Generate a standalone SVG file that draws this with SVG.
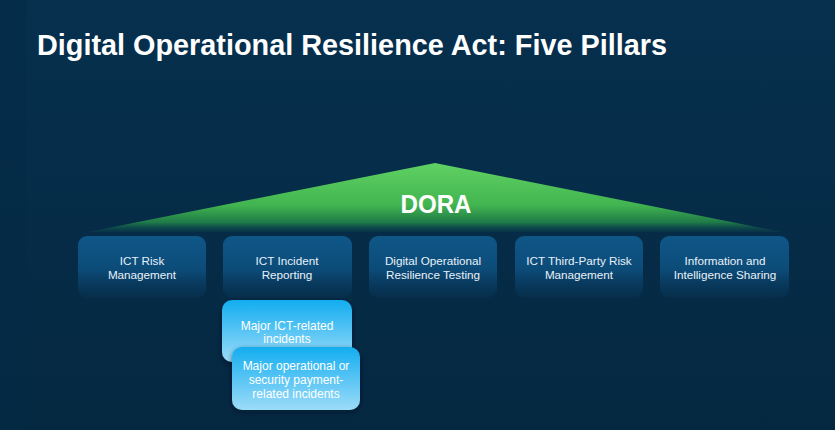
<svg xmlns="http://www.w3.org/2000/svg" width="835" height="430" viewBox="0 0 835 430">
  <defs>
    <linearGradient id="bg" x1="0" y1="0" x2="0" y2="1">
      <stop offset="0" stop-color="#06304e"/>
      <stop offset="1" stop-color="#052841"/>
    </linearGradient>
    <linearGradient id="roof" x1="0" y1="163" x2="0" y2="233" gradientUnits="userSpaceOnUse">
      <stop offset="0" stop-color="#60d163"/>
      <stop offset="0.6" stop-color="#42b550"/>
      <stop offset="0.85" stop-color="#1e7a48"/>
      <stop offset="1" stop-color="#0a3a4c" stop-opacity="0.3"/>
    </linearGradient>
    <linearGradient id="pillar" x1="0" y1="0" x2="0" y2="1">
      <stop offset="0" stop-color="#0f5788"/>
      <stop offset="0.55" stop-color="#0c4b78"/>
      <stop offset="1" stop-color="#07304f" stop-opacity="0.6"/>
    </linearGradient>
    <linearGradient id="sub" x1="0" y1="0" x2="0" y2="1">
      <stop offset="0" stop-color="#13adf0"/>
      <stop offset="1" stop-color="#9cdcf8"/>
    </linearGradient>
    <filter id="shadow" x="-20%" y="-20%" width="140%" height="150%">
      <feDropShadow dx="0" dy="2" stdDeviation="2.5" flood-color="#001525" flood-opacity="0.6"/>
    </filter>
    <style>
      .title { font-family: "Liberation Sans", Arial, sans-serif; font-weight: bold; font-size: 29px; fill: #ffffff; }
      .dora { font-family: "Liberation Sans", Arial, sans-serif; font-weight: bold; font-size: 25px; fill: #ffffff; }
      .ptext { font-family: "Liberation Sans", Arial, sans-serif; font-size: 11.7px; fill: #e8f2fa; text-anchor: middle; }
      .stext { font-family: "Liberation Sans", Arial, sans-serif; font-size: 12px; fill: #ffffff; text-anchor: middle; }
      .pillar { fill: url(#pillar); }
      .subbox { fill: url(#sub); filter: url(#shadow); }
    </style>
  </defs>

  <rect x="0" y="0" width="835" height="430" fill="url(#bg)"/>
  <rect x="0" y="0" width="26" height="430" fill="#042a45" opacity="0.5"/>

  <text class="title" x="37" y="55" textLength="630" lengthAdjust="spacingAndGlyphs">Digital Operational Resilience Act: Five Pillars</text>

  <g id="roof">
    <polygon points="435,163 88,232 782,232" fill="url(#roof)"/>
    <text class="dora" x="436" y="213" text-anchor="middle" textLength="71" lengthAdjust="spacingAndGlyphs">DORA</text>
  </g>

  <g id="pillar1">
    <rect class="pillar" x="78" y="236" width="128" height="62" rx="9"/>
    <text class="ptext" x="142" y="265">ICT Risk</text>
    <text class="ptext" x="142" y="279">Management</text>
  </g>
  <g id="pillar2">
    <rect class="pillar" x="223" y="236" width="129" height="62" rx="9"/>
    <text class="ptext" x="287" y="265">ICT Incident</text>
    <text class="ptext" x="287" y="279">Reporting</text>
  </g>
  <g id="pillar3">
    <rect class="pillar" x="369" y="236" width="128" height="62" rx="9"/>
    <text class="ptext" x="433" y="265">Digital Operational</text>
    <text class="ptext" x="433" y="279">Resilience Testing</text>
  </g>
  <g id="pillar4">
    <rect class="pillar" x="515" y="236" width="128" height="62" rx="9"/>
    <text class="ptext" x="579" y="265">ICT Third-Party Risk</text>
    <text class="ptext" x="579" y="279">Management</text>
  </g>
  <g id="pillar5">
    <rect class="pillar" x="660" y="236" width="129" height="62" rx="9"/>
    <text class="ptext" x="725" y="265">Information and</text>
    <text class="ptext" x="725" y="279">Intelligence Sharing</text>
  </g>

  <g id="sub1">
    <rect class="subbox" x="222" y="300" width="130" height="62" rx="10"/>
    <text class="stext" x="287" y="330">Major ICT-related</text>
    <text class="stext" x="287" y="343">incidents</text>
  </g>
  <g id="sub2">
    <rect class="subbox" x="232" y="347" width="128" height="63" rx="10"/>
    <text class="stext" x="296" y="370">Major operational or</text>
    <text class="stext" x="296" y="384">security payment-</text>
    <text class="stext" x="296" y="398">related incidents</text>
  </g>

  <g id="connectors"/>
</svg>
